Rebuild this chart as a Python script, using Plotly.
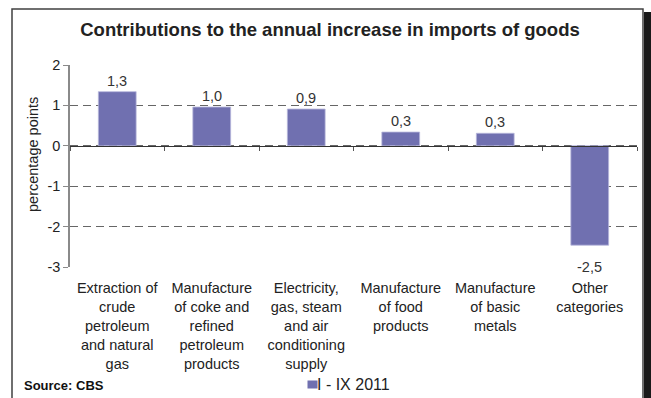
import plotly.graph_objects as go

# ---- data ----
categories = [
    "Extraction of<br>crude<br>petroleum<br>and natural<br>gas",
    "Manufacture<br>of coke and<br>refined<br>petroleum<br>products",
    "Electricity,<br>gas, steam<br>and air<br>conditioning<br>supply",
    "Manufacture<br>of food<br>products",
    "Manufacture<br>of basic<br>metals",
    "Other<br>categories",
]
values = [1.34, 0.96, 0.91, 0.34, 0.31, -2.46]
series_name = "I - IX 2011"
y_ticks = [-3, -2, -1, 0, 1, 2]
y_tick_labels = ["-3", "-2", "-1", "0", "1", "2"]
title_text = "Contributions to the annual increase in imports of goods"
y_title = "percentage points"
source_text = "Source: CBS"

FONT = "Liberation Sans, Arial, sans-serif"
BAR_COLOR = "#7070b0"

# plot-area geometry (pixels) used for paper conversions of decorations
W, H = 651, 398
L, R, T, B = 70, 14, 65, 131
pw, ph = W - L - R, H - T - B

def px_x(x):
    return (x - L) / pw

def px_y(y):
    return (H - B - y) / ph

value_labels = [f"{v:.1f}".replace(".", ",") for v in values]
xs = list(range(len(categories)))

fig = go.Figure()
fig.add_trace(go.Bar(
    x=xs,
    y=values,
    name=series_name,
    width=0.4,
    marker=dict(color=BAR_COLOR, line=dict(color="#b8b8dc", width=0.8)),
    hoverinfo="skip",
    showlegend=False,
))

fig.update_layout(
    width=W, height=H,
    margin=dict(l=L, r=R, t=T, b=B, autoexpand=False),
    paper_bgcolor="white",
    plot_bgcolor="white",
    font=dict(family=FONT, size=14.5, color="#222222"),
    title=dict(
        text="<b>" + title_text + "</b>",
        font=dict(family=FONT, size=18.5, color="#222222"),
        x=330 / W, xanchor="center",
        y=1 - 30 / H, yanchor="middle",
    ),
    xaxis=dict(
        tickmode="array",
        tickvals=xs,
        ticktext=categories,
        range=[-0.5, len(categories) - 0.5],
        showgrid=False, showline=False, zeroline=False,
        ticks="outside", ticklen=8, tickcolor="rgba(0,0,0,0)",
        tickfont=dict(family=FONT, size=14.5, color="#222222"),
        automargin=False,
        fixedrange=True,
    ),
    xaxis2=dict(
        overlaying="x", anchor="free", position=px_y(146),
        range=[-0.5, len(categories) - 0.5],
        tickmode="array",
        tickvals=[i - 0.5 for i in range(len(categories) + 1)],
        showticklabels=False, showgrid=False, zeroline=False,
        showline=True, linecolor="#333333", linewidth=1,
        ticks="outside", ticklen=4, tickcolor="#555555", tickwidth=1,
        automargin=False,
    ),
    yaxis=dict(
        range=[y_ticks[0], y_ticks[-1]],
        tickvals=y_ticks,
        ticktext=y_tick_labels,
        showgrid=True, gridcolor="#666666", gridwidth=1, griddash="8px,5px",
        zeroline=False,
        showline=True, linecolor="#8a8a8a", linewidth=1.5,
        ticks="outside", ticklen=5, tickcolor="#8a8a8a",
        tickfont=dict(family=FONT, size=14.5, color="#222222"),
        automargin=False,
        fixedrange=True,
    ),
    showlegend=False,
)

# invisible trace to activate xaxis2
fig.add_trace(go.Scatter(x=[0], y=[0], xaxis="x2", mode="markers",
                         marker=dict(opacity=0), showlegend=False,
                         hoverinfo="skip"))

# value labels, placed at each bar end through the data axes
for xi, v, lab in zip(xs, values, value_labels):
    fig.add_annotation(
        x=xi, y=v, xref="x", yref="y", text=lab, showarrow=False,
        yanchor="bottom" if v >= 0 else "top",
        yshift=1 if v >= 0 else -12,
        font=dict(family=FONT, size=14.5, color="#333333"))

# y-axis title
fig.add_annotation(text=y_title, xref="paper", yref="paper",
                   x=px_x(33), y=px_y(155), xanchor="center", yanchor="middle",
                   textangle=-90, showarrow=False,
                   font=dict(family=FONT, size=14.5, color="#222222"))

# frame and right shadow
fig.add_shape(type="rect", xref="paper", yref="paper",
              x0=px_x(12), x1=px_x(643), y0=px_y(410), y1=px_y(9),
              line=dict(color="#404040", width=1.5), layer="below")
fig.add_shape(type="rect", xref="paper", yref="paper",
              x0=px_x(644), x1=px_x(652), y0=px_y(410), y1=px_y(12),
              line=dict(width=0), fillcolor="#1a1a1a", layer="below")

fig.add_annotation(text="<b>" + source_text + "</b>", xref="paper", yref="paper",
                   x=px_x(22), y=px_y(385), xanchor="left", yanchor="middle",
                   showarrow=False, font=dict(family=FONT, size=13, color="#111111"))

# legend entry (series key): colour swatch + series name
fig.add_annotation(text=" ", xref="paper", yref="paper",
                   x=px_x(307), y=px_y(384), xanchor="left", yanchor="middle",
                   width=9, height=7, bgcolor=BAR_COLOR, borderpad=0,
                   showarrow=False, font=dict(size=4))
fig.add_annotation(
    text=series_name,
    xref="paper", yref="paper",
    x=px_x(315), y=px_y(384), xanchor="left", yanchor="middle",
    showarrow=False, font=dict(family=FONT, size=16, color="#222222"))

fig.write_html("out.html")
